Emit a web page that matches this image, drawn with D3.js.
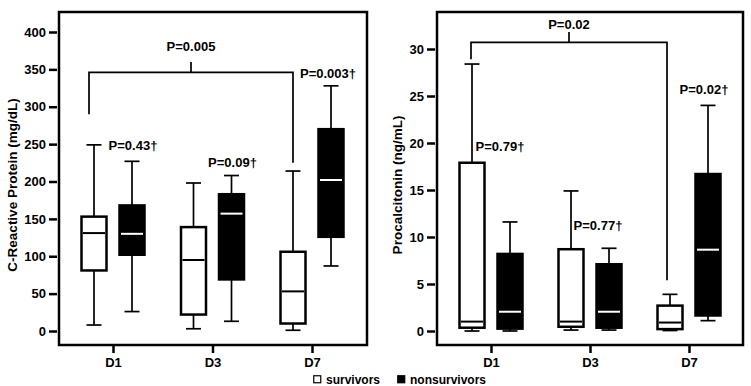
<!DOCTYPE html>
<html><head><meta charset="utf-8">
<script src="https://cdn.jsdelivr.net/npm/d3@7"></script>
<style>
body{margin:0;background:#fff;}
svg{display:block;}
text{font-family:Arial,"Liberation Sans",sans-serif;font-weight:bold;fill:#000;}
</style></head>
<body><svg id="chart" width="751" height="386"></svg>
<script>
// ---- data ----
const categories = ["D1", "D3", "D7"];
const seriesNames = ["survivors", "nonsurvivors"];
// five-number summaries: [min, q1, median, q3, max]
const crpSurvivors    = [[8, 81, 131, 153, 249], [3, 22, 95, 139, 198], [1, 10, 53, 106, 214]];
const crpNonsurvivors = [[26, 102, 130, 168, 227], [13, 69, 157, 183, 208], [87, 126, 202, 270, 328]];
const pctSurvivors    = [[0.0, 0.35, 1.0, 17.9, 28.4], [0.1, 0.45, 1.0, 8.7, 14.9], [0.05, 0.2, 0.9, 2.7, 3.9]];
const pctNonsurvivors = [[0.0, 0.25, 2.05, 8.2, 11.6], [0.1, 0.35, 2.05, 7.1, 8.8], [1.1, 1.65, 8.65, 16.7, 24.0]];
const crpTicks = [0, 50, 100, 150, 200, 250, 300, 350, 400];
const pctTicks = [0, 5, 10, 15, 20, 25, 30];
const crpPairP = ["P=0.43†", "P=0.09†", "P=0.003†"];
const pctPairP = ["P=0.79†", "P=0.77†", "P=0.02†"];
const crpOverallP = "P=0.005";
const pctOverallP = "P=0.02";

const svg = d3.select("#chart");

function panel(cfg) {
  const g = svg.append("g");
  const y = d3.scaleLinear().domain(cfg.domain).range([331, cfg.topPx]);
  const x = d3.scalePoint().domain(categories).range(cfg.xRange);
  const off = [-19, 19];
  const bw = 25, cap = 15;

  // frame
  g.append("rect").attr("x", cfg.frame[0]).attr("y", 12)
    .attr("width", cfg.frame[1] - cfg.frame[0]).attr("height", 333)
    .attr("fill", "none").attr("stroke", "#000").attr("stroke-width", 2.5);

  // y axis (ticks only)
  const ya = g.append("g").attr("transform", `translate(${cfg.frame[0] - 2},0)`)
    .call(d3.axisLeft(y).tickValues(cfg.ticks).tickSize(8).tickPadding(3));
  ya.select(".domain").remove();
  ya.selectAll(".tick line").attr("stroke-width", 2.5);
  ya.selectAll("text").style("font-size", "13px").style("font-family", "Arial, 'Liberation Sans', sans-serif").style("font-weight", "bold");

  // x axis
  const xa = g.append("g").attr("transform", "translate(0,345)")
    .call(d3.axisBottom(x).tickSize(8).tickPadding(5));
  xa.select(".domain").remove();
  xa.selectAll(".tick line").attr("stroke-width", 2.5);
  xa.selectAll("text").style("font-size", "13px").style("font-family", "Arial, 'Liberation Sans', sans-serif").style("font-weight", "bold");

  // y title
  g.append("text").attr("transform", `translate(${cfg.titleX},185) rotate(-90)`)
    .attr("text-anchor", "middle").style("font-size", "13.5px").text(cfg.title);

  // boxes
  [cfg.s, cfg.n].forEach((series, si) => {
    series.forEach((d, i) => {
      const cx = x(categories[i]) + off[si];
      const [mn, q1, md, q3, mx] = d;
      const bg = g.append("g");
      bg.append("line").attr("x1", cx).attr("x2", cx).attr("y1", y(mx)).attr("y2", y(q3))
        .attr("stroke", "#000").attr("stroke-width", 1.7);
      bg.append("line").attr("x1", cx).attr("x2", cx).attr("y1", y(q1)).attr("y2", y(mn))
        .attr("stroke", "#000").attr("stroke-width", 1.7);
      bg.append("line").attr("x1", cx - cap / 2).attr("x2", cx + cap / 2).attr("y1", y(mx)).attr("y2", y(mx))
        .attr("stroke", "#000").attr("stroke-width", 1.7);
      bg.append("line").attr("x1", cx - cap / 2).attr("x2", cx + cap / 2).attr("y1", y(mn)).attr("y2", y(mn))
        .attr("stroke", "#000").attr("stroke-width", 1.7);
      bg.append("rect").attr("x", cx - bw / 2).attr("y", y(q3)).attr("width", bw)
        .attr("height", y(q1) - y(q3))
        .attr("fill", si === 0 ? "#fff" : "#000").attr("stroke", "#000").attr("stroke-width", 2.5);
      bg.append("line").attr("x1", cx - bw / 2 + 1.5).attr("x2", cx + bw / 2 - 1.5)
        .attr("y1", y(md)).attr("y2", y(md))
        .attr("stroke", si === 0 ? "#000" : "#fff").attr("stroke-width", 2);
    });
  });

  // overall bracket between D1 and D7 survivors
  const lx = x(categories[0]) + off[0] + cfg.bracketAdj[0];
  const rx = x(categories[2]) + off[0] + cfg.bracketAdj[1];
  const by = y(cfg.bracket.level);
  g.append("path")
    .attr("d", `M${lx},${y(cfg.bracket.left)}V${by}H${rx}V${y(cfg.bracket.right)}`)
    .attr("fill", "none").attr("stroke", "#000").attr("stroke-width", 1.7);
  const mx = (lx + rx) / 2;
  g.append("line").attr("x1", mx).attr("x2", mx).attr("y1", by).attr("y2", y(cfg.bracket.tick))
    .attr("stroke", "#000").attr("stroke-width", 1.7);
  g.append("text").attr("x", mx).attr("y", y(cfg.bracket.label)).attr("text-anchor", "middle")
    .style("font-size", "13px").text(cfg.overallP);

  // pair P labels
  cfg.pairP.forEach((t, i) => {
    g.append("text").attr("x", x(categories[i]) + cfg.pairDx[i]).attr("y", y(cfg.pairY[i]))
      .attr("text-anchor", "middle").style("font-size", "13px").text(t);
  });
}

panel({
  domain: [0, 400], topPx: 32, xRange: [113, 312], frame: [59, 367],
  ticks: crpTicks, title: "C-Reactive Protein (mg/dL)", titleX: 17,
  s: crpSurvivors, n: crpNonsurvivors,
  bracket: { level: 346, left: 290, right: 225, tick: 360, label: 374 },
  bracketAdj: [-5, 0],
  overallP: crpOverallP, pairP: crpPairP, pairY: [242, 220, 338], pairDx: [20, 20, 16]
});

panel({
  domain: [0, 30], topPx: 49, xRange: [491, 689], frame: [437, 743],
  ticks: pctTicks, title: "Procalcitonin (ng/mL)", titleX: 402,
  s: pctSurvivors, n: pctNonsurvivors,
  bracket: { level: 30.7, left: 28.9, right: 5.4, tick: 31.8, label: 32.1 },
  bracketAdj: [-1, -3],
  overallP: pctOverallP, pairP: pctPairP, pairY: [19.2, 10.7, 25.2], pairDx: [9, 8, 15]
});

// legend
const leg = svg.append("g");
const legX = [313, 397];
seriesNames.forEach((name, i) => {
  leg.append("rect").attr("x", legX[i] + 0.75).attr("y", 375.75).attr("width", 7).attr("height", 7)
    .attr("fill", i === 0 ? "#fff" : "#000").attr("stroke", "#000").attr("stroke-width", 1.2);
  leg.append("text").attr("x", legX[i] + 13).attr("y", 384).style("font-size", "12px").text(name);
});
</script></body></html>
